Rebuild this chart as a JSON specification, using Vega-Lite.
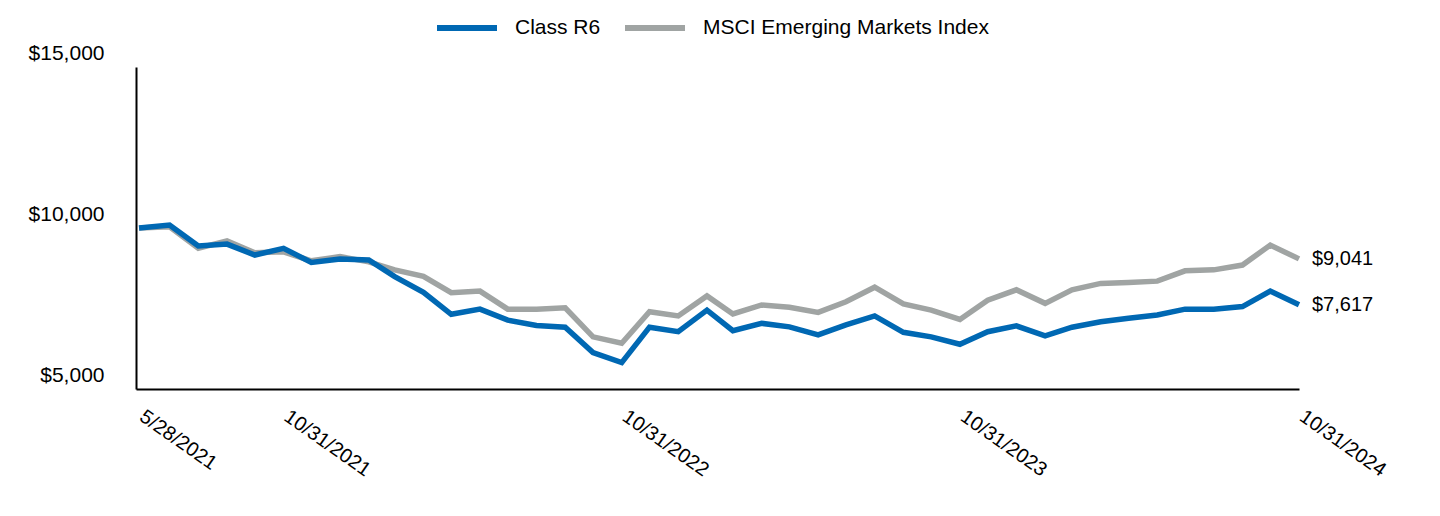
{
  "$schema": "https://vega.github.io/schema/vega-lite/v6.json",
  "width": 1163,
  "height": 322,
  "autosize": {"type": "none"},
  "padding": {"left": 136, "top": 67, "right": 141, "bottom": 127},
  "background": "white",
  "config": {
    "font": "Liberation Sans",
    "view": {"stroke": null},
    "axis": {"labelColor": "black", "domainColor": "black", "domainWidth": 2, "ticks": false, "grid": false, "title": null}
  },
  "data": {
    "values": [
      {"date": "2021-05-28", "series": "Class R6", "value": 10000},
      {"date": "2021-06-30", "series": "Class R6", "value": 10090},
      {"date": "2021-07-31", "series": "Class R6", "value": 9440},
      {"date": "2021-08-31", "series": "Class R6", "value": 9500},
      {"date": "2021-09-30", "series": "Class R6", "value": 9160},
      {"date": "2021-10-31", "series": "Class R6", "value": 9370},
      {"date": "2021-11-30", "series": "Class R6", "value": 8930},
      {"date": "2021-12-31", "series": "Class R6", "value": 9040},
      {"date": "2022-01-31", "series": "Class R6", "value": 9010},
      {"date": "2022-02-28", "series": "Class R6", "value": 8490},
      {"date": "2022-03-31", "series": "Class R6", "value": 8000},
      {"date": "2022-04-30", "series": "Class R6", "value": 7320},
      {"date": "2022-05-31", "series": "Class R6", "value": 7480},
      {"date": "2022-06-30", "series": "Class R6", "value": 7140},
      {"date": "2022-07-31", "series": "Class R6", "value": 6970},
      {"date": "2022-08-31", "series": "Class R6", "value": 6920},
      {"date": "2022-09-30", "series": "Class R6", "value": 6130},
      {"date": "2022-10-31", "series": "Class R6", "value": 5820},
      {"date": "2022-11-30", "series": "Class R6", "value": 6920},
      {"date": "2022-12-31", "series": "Class R6", "value": 6780},
      {"date": "2023-01-31", "series": "Class R6", "value": 7450},
      {"date": "2023-02-28", "series": "Class R6", "value": 6810},
      {"date": "2023-03-31", "series": "Class R6", "value": 7040},
      {"date": "2023-04-30", "series": "Class R6", "value": 6930},
      {"date": "2023-05-31", "series": "Class R6", "value": 6680},
      {"date": "2023-06-30", "series": "Class R6", "value": 6990},
      {"date": "2023-07-31", "series": "Class R6", "value": 7270},
      {"date": "2023-08-31", "series": "Class R6", "value": 6760},
      {"date": "2023-09-30", "series": "Class R6", "value": 6620},
      {"date": "2023-10-31", "series": "Class R6", "value": 6390},
      {"date": "2023-11-30", "series": "Class R6", "value": 6780},
      {"date": "2023-12-31", "series": "Class R6", "value": 6960},
      {"date": "2024-01-31", "series": "Class R6", "value": 6650},
      {"date": "2024-02-29", "series": "Class R6", "value": 6920},
      {"date": "2024-03-31", "series": "Class R6", "value": 7090},
      {"date": "2024-04-30", "series": "Class R6", "value": 7200},
      {"date": "2024-05-31", "series": "Class R6", "value": 7300},
      {"date": "2024-06-30", "series": "Class R6", "value": 7480},
      {"date": "2024-07-31", "series": "Class R6", "value": 7480},
      {"date": "2024-08-31", "series": "Class R6", "value": 7560},
      {"date": "2024-09-30", "series": "Class R6", "value": 8040},
      {"date": "2024-10-31", "series": "Class R6", "value": 7617},
      {"date": "2021-05-28", "series": "MSCI Emerging Markets Index", "value": 10000},
      {"date": "2021-06-30", "series": "MSCI Emerging Markets Index", "value": 10040},
      {"date": "2021-07-31", "series": "MSCI Emerging Markets Index", "value": 9370},
      {"date": "2021-08-31", "series": "MSCI Emerging Markets Index", "value": 9600},
      {"date": "2021-09-30", "series": "MSCI Emerging Markets Index", "value": 9230},
      {"date": "2021-10-31", "series": "MSCI Emerging Markets Index", "value": 9260},
      {"date": "2021-11-30", "series": "MSCI Emerging Markets Index", "value": 8980},
      {"date": "2021-12-31", "series": "MSCI Emerging Markets Index", "value": 9110},
      {"date": "2022-01-31", "series": "MSCI Emerging Markets Index", "value": 8950},
      {"date": "2022-02-28", "series": "MSCI Emerging Markets Index", "value": 8700},
      {"date": "2022-03-31", "series": "MSCI Emerging Markets Index", "value": 8500},
      {"date": "2022-04-30", "series": "MSCI Emerging Markets Index", "value": 7990},
      {"date": "2022-05-31", "series": "MSCI Emerging Markets Index", "value": 8040},
      {"date": "2022-06-30", "series": "MSCI Emerging Markets Index", "value": 7480},
      {"date": "2022-07-31", "series": "MSCI Emerging Markets Index", "value": 7480},
      {"date": "2022-08-31", "series": "MSCI Emerging Markets Index", "value": 7520},
      {"date": "2022-09-30", "series": "MSCI Emerging Markets Index", "value": 6620},
      {"date": "2022-10-31", "series": "MSCI Emerging Markets Index", "value": 6420},
      {"date": "2022-11-30", "series": "MSCI Emerging Markets Index", "value": 7400},
      {"date": "2022-12-31", "series": "MSCI Emerging Markets Index", "value": 7270},
      {"date": "2023-01-31", "series": "MSCI Emerging Markets Index", "value": 7890},
      {"date": "2023-02-28", "series": "MSCI Emerging Markets Index", "value": 7330},
      {"date": "2023-03-31", "series": "MSCI Emerging Markets Index", "value": 7610},
      {"date": "2023-04-30", "series": "MSCI Emerging Markets Index", "value": 7540},
      {"date": "2023-05-31", "series": "MSCI Emerging Markets Index", "value": 7380},
      {"date": "2023-06-30", "series": "MSCI Emerging Markets Index", "value": 7710},
      {"date": "2023-07-31", "series": "MSCI Emerging Markets Index", "value": 8160},
      {"date": "2023-08-31", "series": "MSCI Emerging Markets Index", "value": 7640},
      {"date": "2023-09-30", "series": "MSCI Emerging Markets Index", "value": 7450},
      {"date": "2023-10-31", "series": "MSCI Emerging Markets Index", "value": 7160},
      {"date": "2023-11-30", "series": "MSCI Emerging Markets Index", "value": 7760},
      {"date": "2023-12-31", "series": "MSCI Emerging Markets Index", "value": 8080},
      {"date": "2024-01-31", "series": "MSCI Emerging Markets Index", "value": 7660},
      {"date": "2024-02-29", "series": "MSCI Emerging Markets Index", "value": 8080},
      {"date": "2024-03-31", "series": "MSCI Emerging Markets Index", "value": 8280},
      {"date": "2024-04-30", "series": "MSCI Emerging Markets Index", "value": 8310},
      {"date": "2024-05-31", "series": "MSCI Emerging Markets Index", "value": 8350},
      {"date": "2024-06-30", "series": "MSCI Emerging Markets Index", "value": 8670},
      {"date": "2024-07-31", "series": "MSCI Emerging Markets Index", "value": 8700},
      {"date": "2024-08-31", "series": "MSCI Emerging Markets Index", "value": 8850},
      {"date": "2024-09-30", "series": "MSCI Emerging Markets Index", "value": 9470},
      {"date": "2024-10-31", "series": "MSCI Emerging Markets Index", "value": 9041}
    ]
  },
  "encoding": {
    "x": {
      "field": "date",
      "type": "temporal",
      "scale": {"domain": [{"year": 2021, "month": 5, "date": 24, "hours": 18}, {"year": 2024, "month": 10, "date": 31}], "nice": false},
      "axis": {
        "values": [
          {"year": 2021, "month": 5, "date": 28},
          {"year": 2021, "month": 10, "date": 31},
          {"year": 2022, "month": 10, "date": 31},
          {"year": 2023, "month": 10, "date": 31},
          {"year": 2024, "month": 10, "date": 31}
        ],
        "format": "%-m/%-d/%Y",
        "labelAngle": 35,
        "labelAlign": "left",
        "labelBaseline": "top",
        "labelFontSize": 20,
        "labelPadding": 17,
        "labelOffset": 8,
        "labelBound": false,
        "labelFlush": false,
        "labelOverlap": false
      }
    },
    "y": {
      "field": "value",
      "type": "quantitative",
      "scale": {"domain": [5000, 15000], "nice": false, "zero": false},
      "axis": {
        "values": [5000, 10000, 15000],
        "format": "$,.0f",
        "labelFontSize": 21,
        "labelPadding": 32,
        "labelOffset": -14,
        "labelBaseline": "middle",
        "labelBound": false,
        "labelFlush": false,
        "labelOverlap": false
      }
    }
  },
  "layer": [
    {
      "transform": [{"filter": "datum.series == 'MSCI Emerging Markets Index'"}],
      "mark": {"type": "line", "strokeWidth": 5.5},
      "encoding": {
        "color": {
          "field": "series",
          "type": "nominal",
          "scale": {"domain": ["Class R6", "MSCI Emerging Markets Index"], "range": ["#0068B3", "#A0A4A3"]},
          "legend": {
            "title": null,
            "orient": "none",
            "legendX": 298,
            "legendY": -72,
            "direction": "horizontal",
            "symbolType": "stroke",
            "symbolSize": 3600,
            "symbolStrokeWidth": 6,
            "labelFontSize": 21,
            "labelColor": "black",
            "labelOffset": 15,
            "labelLimit": 0,
            "columnPadding": 12,
            "padding": 0
          }
        }
      }
    },
    {
      "transform": [{"filter": "datum.series == 'Class R6'"}],
      "mark": {"type": "line", "strokeWidth": 5.5},
      "encoding": {
        "color": {"field": "series", "type": "nominal"}
      }
    },
    {
      "transform": [{"filter": "time(datum.date) > time(datetime(2024, 9, 15))"}],
      "mark": {"type": "text", "align": "left", "baseline": "middle", "dx": 13, "fontSize": 20, "color": "black"},
      "encoding": {
        "text": {"field": "value", "type": "quantitative", "format": "$,.0f"}
      }
    }
  ]
}
